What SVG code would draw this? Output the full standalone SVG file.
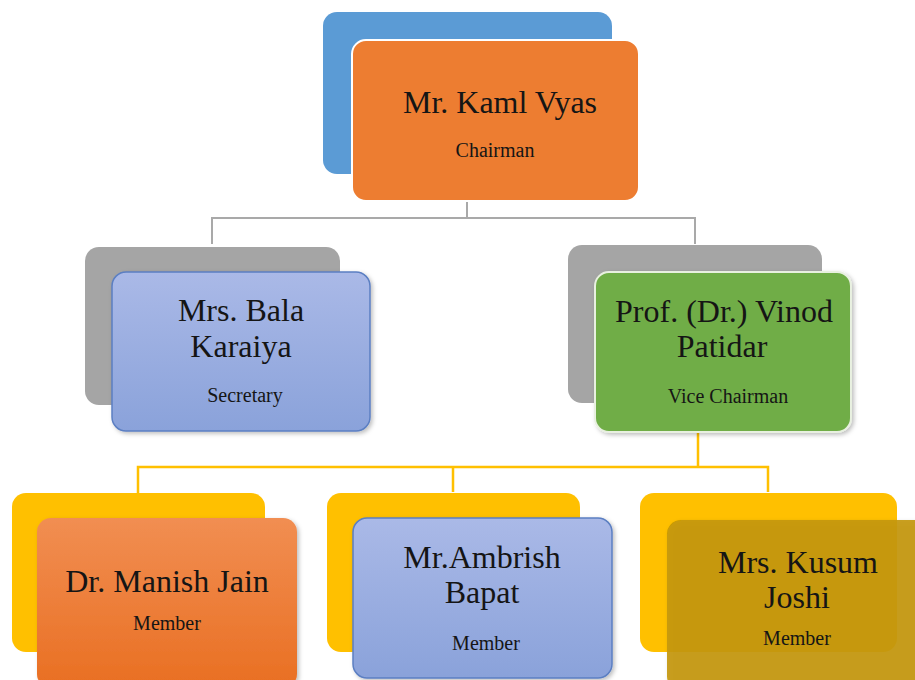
<svg xmlns="http://www.w3.org/2000/svg" width="915" height="680" viewBox="0 0 915 680">
<defs>
<linearGradient id="gBlue" x1="0" y1="0" x2="0" y2="1"><stop offset="0" stop-color="#aab9e7"/><stop offset="1" stop-color="#8aa2da"/></linearGradient>
<linearGradient id="gOrange" x1="0" y1="0" x2="0" y2="1"><stop offset="0" stop-color="#f18e52"/><stop offset="1" stop-color="#e96f22"/></linearGradient>
<filter id="sh" x="-5%" y="-5%" width="112%" height="115%"><feDropShadow dx="2" dy="2" stdDeviation="2" flood-color="#000" flood-opacity="0.25"/></filter>
</defs>
<style>
text{font-family:'Liberation Serif','DejaVu Serif',serif;fill:#151515;text-anchor:middle}
.name{font-size:32px}
.role{font-size:20px}
.gline{fill:none;stroke:#a9a9a9;stroke-width:2}
.yline{fill:none;stroke:#ffc000;stroke-width:2.5}
</style>
<rect width="915" height="680" fill="#fff"/>
<g id="connectors">
<path class="gline" d="M467 200V218M212 244V218H695V244"/>
<path class="yline" d="M698 432V467M138 493V467H768V492M453 467V492"/>
</g>
<g id="chairman">
<rect x="323" y="12" width="289" height="162" rx="14" fill="#5b9bd5"/>
<rect x="352" y="40" width="287" height="161" rx="14" fill="#ed7d31" stroke="#fff" stroke-width="2"/>
<text class="name" x="500" y="113">Mr. Kaml Vyas</text>
<text class="role" x="495" y="157">Chairman</text>
</g>
<g id="secretary">
<rect x="85" y="247" width="255" height="158" rx="14" fill="#a5a5a5"/>
<rect x="112" y="272" width="258" height="159" rx="14" fill="url(#gBlue)" stroke="#5b7fc2" stroke-width="1.5" filter="url(#sh)"/>
<text class="name" x="241" y="321">Mrs. Bala</text>
<text class="name" x="241" y="357">Karaiya</text>
<text class="role" x="245" y="402">Secretary</text>
</g>
<g id="vicechairman">
<rect x="568" y="245" width="254" height="158" rx="14" fill="#a5a5a5"/>
<rect x="595" y="272" width="256" height="160" rx="14" fill="#70ad47" stroke="#e8f0e0" stroke-width="2" filter="url(#sh)"/>
<text class="name" x="724" y="322">Prof. (Dr.) Vinod</text>
<text class="name" x="722" y="357">Patidar</text>
<text class="role" x="728" y="403">Vice Chairman</text>
</g>
<g id="member1">
<rect x="12" y="493" width="253" height="159" rx="14" fill="#ffc000"/>
<rect x="37" y="518" width="260" height="170" rx="14" fill="url(#gOrange)" filter="url(#sh)"/>
<text class="name" x="167" y="592">Dr. Manish Jain</text>
<text class="role" x="167" y="630">Member</text>
</g>
<g id="member2">
<rect x="327" y="493" width="253" height="159" rx="14" fill="#ffc000"/>
<rect x="353" y="518" width="259" height="160" rx="14" fill="url(#gBlue)" stroke="#5b7fc2" stroke-width="1.5" filter="url(#sh)"/>
<text class="name" x="482" y="568">Mr.Ambrish</text>
<text class="name" x="482" y="603">Bapat</text>
<text class="role" x="486" y="650">Member</text>
</g>
<g id="member3">
<rect x="640" y="493" width="257" height="159" rx="14" fill="#ffc000"/>
<rect x="667" y="520" width="270" height="170" rx="14" fill="#c49708" fill-opacity="0.92" filter="url(#sh)"/>
<text class="name" x="798" y="573">Mrs. Kusum</text>
<text class="name" x="797" y="608">Joshi</text>
<text class="role" x="797" y="645">Member</text>
</g>
</svg>
